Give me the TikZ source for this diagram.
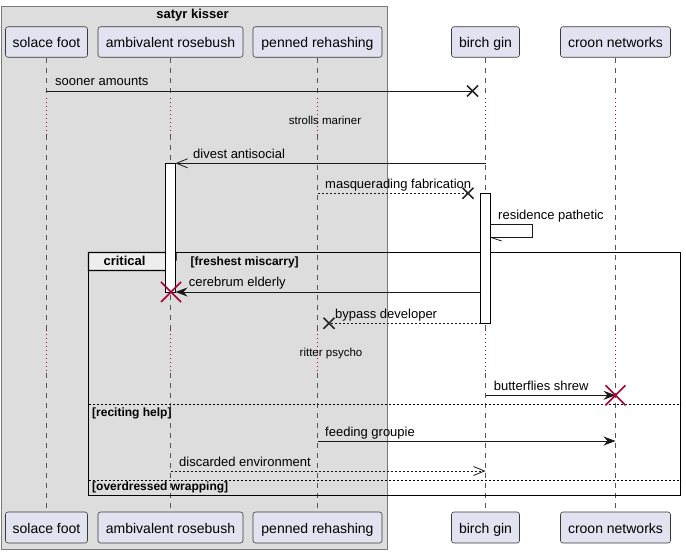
\documentclass[tikz,border=0pt]{standalone}
\usepackage{fontspec}
\setmainfont{Liberation Sans}
\usetikzlibrary{arrows.meta}
\definecolor{grpfill}{HTML}{DDDDDD}
\definecolor{grpdraw}{HTML}{7A7A7A}
\definecolor{partfill}{HTML}{E2E2F0}
\definecolor{partdraw}{HTML}{3A3A3A}
\definecolor{destroyred}{HTML}{A80036}
\definecolor{lifegray}{HTML}{555555}
\definecolor{tabfill}{HTML}{EEEEEE}
\begin{document}
\begin{tikzpicture}[x=1pt,y=-1pt,
  part/.style={draw=partdraw,line width=0.6pt,fill=partfill,rounded corners=2.5pt,
    font=\fontsize{14}{16}\selectfont,inner sep=0pt,text height=14pt,text depth=2pt},
  life/.style={draw=lifegray,line width=0.7pt,dash pattern=on 5pt off 5pt},
  delayl/.style={draw=destroyred,line width=0.9pt,dash pattern=on 1pt off 3pt},
  msg/.style={draw=black!90,line width=0.8pt},
  dmsg/.style={msg,dash pattern=on 2pt off 2pt},
  fillarrow/.style={-{Stealth[length=12pt,width=9pt,inset=4pt]}},
  openarrow/.style={-{Straight Barb[length=11pt,width=9pt]}},
  mlabel/.style={anchor=base west,inner sep=0pt,font=\fontsize{13}{15}\selectfont},
  dlabel/.style={anchor=base,inner sep=0pt,font=\fontsize{11.5}{13}\selectfont},
  glabel/.style={anchor=base west,inner sep=0pt,font=\bfseries\fontsize{12}{14}\selectfont},
  actbar/.style={draw=black,line width=0.8pt,fill=white},
  lostx/.style={draw=black!85,line width=1.6pt},
  redx/.style={draw=destroyred,line width=1.6pt},
  sepline/.style={draw=black,line width=0.8pt,dash pattern=on 2pt off 2pt}
]
% canvas
\useasboundingbox[fill=white] (0,0) rectangle (686,553);

% group box
\draw[draw=grpdraw,fill=grpfill,line width=0.8pt] (1,6) rectangle (387,549);
\node[anchor=base,inner sep=0pt,font=\bfseries\fontsize{13}{15}\selectfont] (gtitle) at (192.5,19) {satyr kisser};

% participants
\node[part,minimum width=82pt,minimum height=30.5pt] (sf) at (46.5,42) {solace foot};
\node[part,minimum width=145pt,minimum height=30.5pt] (ar) at (170.5,42) {ambivalent rosebush};
\node[part,minimum width=129pt,minimum height=30.5pt] (pr) at (317.5,42) {penned rehashing};
\node[part,minimum width=68pt,minimum height=30.5pt] (bg) at (485.5,42) {birch gin};
\node[part,minimum width=110pt,minimum height=30.5pt] (cn) at (615.5,42) {croon networks};

\node[part,minimum width=82pt,minimum height=31pt] (sfB) at (46.5,527.5) {solace foot};
\node[part,minimum width=145pt,minimum height=31pt] (arB) at (170.5,527.5) {ambivalent rosebush};
\node[part,minimum width=129pt,minimum height=31pt] (prB) at (317.5,527.5) {penned rehashing};
\node[part,minimum width=68pt,minimum height=31pt] (bgB) at (485.5,527.5) {birch gin};
\node[part,minimum width=110pt,minimum height=31pt] (cnB) at (615.5,527.5) {croon networks};

% delay limits
\coordinate (d1a) at (0,98);
\coordinate (d1b) at (0,135);
\coordinate (d2a) at (0,330);
\coordinate (d2b) at (0,373);

% lifelines
\foreach \t/\b in {sf/sfB,ar/arB,pr/prB,bg/bgB,cn/cnB} {
  \draw[life] (\t.south) -- (\t.south |- d1a);
  \draw[delayl] (\t.south |- d1a) -- (\t.south |- d1b);
  \draw[life] (\t.south |- d1b) -- (\t.south |- d2a);
  \draw[delayl] (\t.south |- d2a) -- (\t.south |- d2b);
  \draw[life] (\t.south |- d2b) -- (\b.north);
}

% delay texts
\node[dlabel] (dl1) at (325,125) {strolls mariner};
\node[dlabel] (dl2) at (331,356.7) {ritter psycho};

% critical frame
\draw[line width=1.9pt] (88.5,252.5) rectangle (680.5,495.5);
\filldraw[fill=tabfill,draw=black,line width=1.1pt] (88.5,252.5) -- (176,252.5) -- (176,260) -- (166,270.5) -- (88.5,270.5) -- cycle;
\node[anchor=base,inner sep=0pt,font=\bfseries\fontsize{13}{15}\selectfont] (ftag) at (124.5,265.7) {critical};
\node[glabel] (g1) at (190.5,265.7) {[freshest miscarry]};
\draw[sepline] (88.5,404) -- (680.5,404);
\node[glabel] (g2) at (92,416.5) {[reciting help]};
\draw[sepline] (88.5,480) -- (680.5,480);
\node[glabel] (g3) at (92,490.5) {[overdressed wrapping]};

% message end points
\coordinate (m1a) at (46,91);     \coordinate (m1b) at (472.5,91);
\coordinate (m2a) at (485.5,163.3); \coordinate (m2b) at (175.5,163.3);
\coordinate (m3a) at (317.5,193.3); \coordinate (m3b) at (468,193.3);
\coordinate (m4a) at (490.5,224.3); \coordinate (m4c) at (532.3,224.3);
\coordinate (m4d) at (532.3,237.3); \coordinate (m4b) at (490.5,237.3);
\coordinate (m4t) at (501.7,241);
\coordinate (m5a) at (480.5,292);   \coordinate (m5b) at (175.5,292);
\coordinate (x5)  at (171,292);
\coordinate (m6a) at (480.5,323.3); \coordinate (m6b) at (329,323.3);
\coordinate (m7a) at (485.5,395.3); \coordinate (m7b) at (615.5,395.3);
\coordinate (m8a) at (317.5,441);   \coordinate (m8b) at (615.5,441);
\coordinate (m9a) at (170.5,471);   \coordinate (m9b) at (485.5,471);

% activation bars
\node[actbar,inner sep=0pt,minimum width=10pt,minimum height=128.7pt] (actA) at (170.5,227.65) {};
\node[actbar,inner sep=0pt,minimum width=10pt,minimum height=130pt] (actB) at (485.5,258.3) {};

% messages
\draw[msg] (m1a) -- (m1b);
\draw[lostx] (m1b) +(-5.5,-5.5) -- +(5.5,5.5) (m1b) +(-5.5,5.5) -- +(5.5,-5.5);
\node[mlabel] (l1) at (55,86) {sooner amounts};

\draw[msg,openarrow] (m2a) -- (m2b);
\node[mlabel] (l2) at (193,158.3) {divest antisocial};

\draw[dmsg] (m3a) -- (m3b);
\draw[lostx] (m3b) +(-5.5,-5.5) -- +(5.5,5.5) (m3b) +(-5.5,5.5) -- +(5.5,-5.5);
\node[mlabel] (l3) at (325,188.3) {masquerading fabrication};

\draw[msg] (m4a) -- (m4c) -- (m4d) -- (m4b);
\draw[msg] (m4b) -- (m4t);
\node[mlabel] (l4) at (498,219.3) {residence pathetic};

\draw[msg,fillarrow] (m5a) -- (m5b);
\draw[redx] (x5) +(-10,-10) -- +(10,10) (x5) +(-10,10) -- +(10,-10);
\node[mlabel] (l5) at (188.7,287) {cerebrum elderly};

\draw[dmsg] (m6a) -- (m6b);
\draw[lostx] (m6b) +(-5.5,-5.5) -- +(5.5,5.5) (m6b) +(-5.5,5.5) -- +(5.5,-5.5);
\node[mlabel] (l6) at (335,318.3) {bypass developer};

\draw[msg,fillarrow] (m7a) -- (m7b);
\draw[redx] (m7b) +(-10,-10) -- +(10,10) (m7b) +(-10,10) -- +(10,-10);
\node[mlabel] (l7) at (493.7,390.3) {butterflies shrew};

\draw[msg,fillarrow] (m8a) -- (m8b);
\node[mlabel] (l8) at (325,436) {feeding groupie};

\draw[dmsg,openarrow] (m9a) -- (m9b);
\node[mlabel] (l9) at (179,466) {discarded environment};
\end{tikzpicture}
\end{document}
